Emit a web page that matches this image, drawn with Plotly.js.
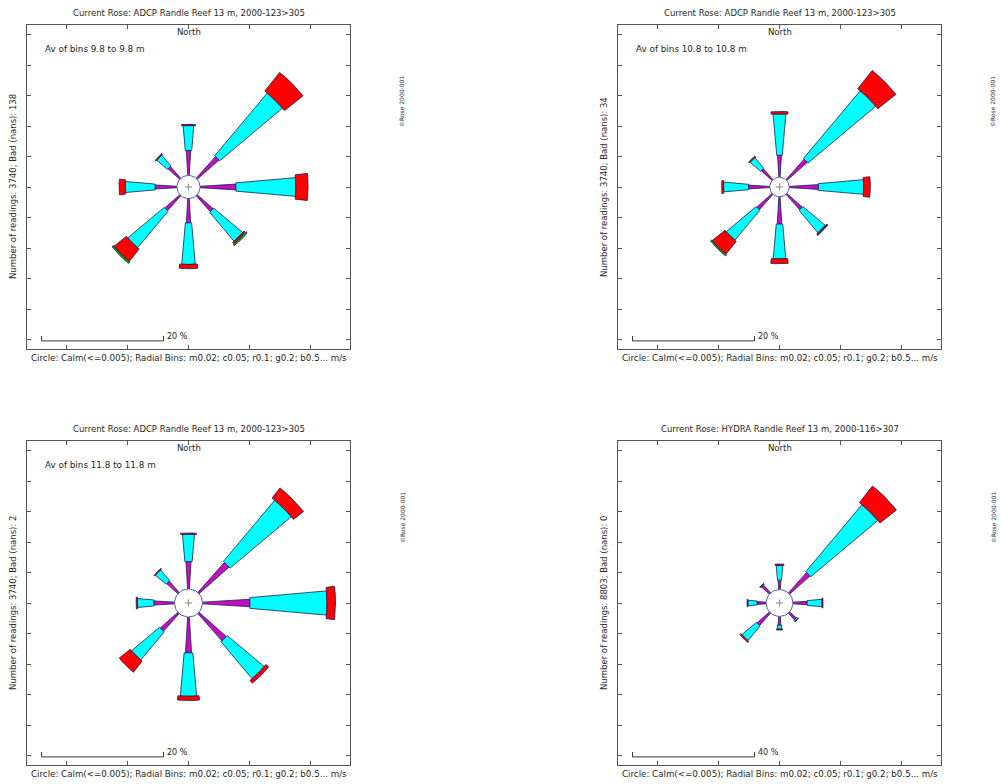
<!DOCTYPE html>
<html><head><meta charset="utf-8">
<script src="https://cdn.plot.ly/plotly-3.0.1.min.js"></script>
<style>html,body{margin:0;padding:0;background:#fff}#chart{width:1001px;height:784px}</style>
</head><body><div id="chart"></div>
<script>
// ---------- DATA ----------
const directions = ['N','NE','E','SE','S','SW','W','NW'];
const directionDeg = [0,45,90,135,180,225,270,315];
const speedBins = ['m','c','r','g','b'];

const panelTitles = [
  'Current Rose: ADCP Randle Reef 13 m, 2000-123>305',
  'Current Rose: ADCP Randle Reef 13 m, 2000-123>305',
  'Current Rose: ADCP Randle Reef 13 m, 2000-123>305',
  'Current Rose: HYDRA Randle Reef 13 m, 2000-116>307'
];
const avBinsText = ['Av of bins 9.8 to 9.8 m','Av of bins 10.8 to 10.8 m','Av of bins 11.8 to 11.8 m',''];
const yLabels = [
  'Number of readings: 3740; Bad (nans): 138',
  'Number of readings: 3740; Bad (nans): 34',
  'Number of readings: 3740; Bad (nans): 2',
  'Number of readings: 8803; Bad (nans): 0'
];
const xLabel = 'Circle: Calm(<=0.005); Radial Bins: m0.02; c0.05; r0.1; g0.2; b0.5... m/s';
const northLabel = 'North';
const stampText = '©Rose 2000-001';
const scaleBarPct = [20,20,20,40];
const calmRadiusPct = [1.9,1.6,2.3,4.4];

// percent of readings per direction (N, NE, E, SE, S, SW, W, NW) per speed bin
const p1_m = [4.1,4.8,5.9,3.5,4.0,3.3,3.6,2.6];
const p1_c = [4.1,13.4,9.8,6.2,6.8,7.8,4.9,2.3];
const p1_r = [0.2,3.9,2.0,0.3,0.7,2.6,1.0,0.2];
const p1_g = [0,0,0,0.3,0,0.3,0,0];
const p1_b = [0,0,0,0,0,0,0,0];

const p2_m = [3.6,4.5,4.8,3.4,4.5,3.4,3.5,2.4];
const p2_c = [6.8,14.5,7.4,4.8,5.7,6.4,4.1,2.3];
const p2_r = [0.4,3.8,1.1,0.2,0.8,2.7,0.3,0.2];
const p2_g = [0,0,0,0.1,0,0.25,0,0];
const p2_b = [0,0,0,0,0,0,0,0];

const p3_m = [4.5,6.6,7.8,6.0,5.9,3.9,3.4,2.5];
const p3_c = [4.5,13.1,12.6,7.9,7.1,6.0,2.7,2.3];
const p3_r = [0.2,2.1,1.4,0.6,0.7,2.3,0.2,0.15];
const p3_g = [0,0,0,0,0,0,0,0];
const p3_b = [0,0,0,0,0,0,0,0];

const p4_m = [3.1,9.0,4.7,2.9,2.9,5.5,3.0,3.4];
const p4_c = [4.9,28.7,4.9,0.5,1.3,6.2,3.0,0.3];
const p4_r = [0.4,6.9,0.3,0.2,0.3,0.5,0.3,0.2];
const p4_g = [0,0,0,0,0,0,0,0];
const p4_b = [0,0,0,0,0,0,0,0];

const panelBins = [
  [p1_m,p1_c,p1_r,p1_g,p1_b],
  [p2_m,p2_c,p2_r,p2_g,p2_b],
  [p3_m,p3_c,p3_r,p3_g,p3_b],
  [p4_m,p4_c,p4_r,p4_g,p4_b]
];

// ---------- STYLE ----------
const binColors = ['#c010c0','#00ffff','#ff0000','#00b000','#0000ff'];
const binHalfAngle = [3.5,5,6.5,7,7.5];
const W = 1001, H = 784;
const frames = [ // px boxes [left, top, right, bottom]
  [27,25,350,349],[618,25,941,349],[27,441,350,765],[618,441,941,765]
];
const FONT = 'DejaVu Sans, Verdana, sans-serif';
const TXT = '#262626';

function arcPts(theta, r0, r1, half) {
  const xs = [], ys = [], n = 4;
  for (let i = 0; i <= n; i++) {
    const a = (theta - half + 2*half*i/n) * Math.PI/180;
    xs.push(r0*Math.sin(a)); ys.push(r0*Math.cos(a));
  }
  for (let i = n; i >= 0; i--) {
    const a = (theta - half + 2*half*i/n) * Math.PI/180;
    xs.push(r1*Math.sin(a)); ys.push(r1*Math.cos(a));
  }
  xs.push(xs[0]); ys.push(ys[0]);
  return [xs, ys];
}

const traces = [];
const layout = {
  width: W, height: H, margin: {l:0,r:0,t:0,b:0},
  paper_bgcolor: '#fff', plot_bgcolor: '#fff', showlegend: false,
  font: {family: FONT, color: TXT},
  annotations: []
};

frames.forEach((f, p) => {
  const s = p === 0 ? '' : String(p+1);
  const xa = 'x' + s, ya = 'y' + s;
  const pxPer = 122 / scaleBarPct[p];
  const xHalf = (f[2]-f[0]) / 2 / pxPer;
  const yHalf = (f[3]-f[1]) / 2 / pxPer;
  const xt = [], yt = [];
  for (let v = -3; v <= 3; v++) { const t = v*scaleBarPct[p]/2; if (Math.abs(t) < xHalf) xt.push(t); }
  for (let v = -6; v <= 6; v++) { const t = v*scaleBarPct[p]/4; if (Math.abs(t) < yHalf) yt.push(t); }
  const common = {showgrid:false, zeroline:false, showticklabels:false, ticks:'inside', ticklen:4,
    tickcolor:'#555', tickwidth:1, showline:true, linecolor:'#555', linewidth:1, mirror:'ticks', fixedrange:true};
  layout['xaxis'+s] = Object.assign({}, common, {domain:[f[0]/W, f[2]/W], range:[-xHalf, xHalf], anchor: ya, tickvals: xt});
  layout['yaxis'+s] = Object.assign({}, common, {domain:[1-f[3]/H, 1-f[1]/H], range:[-yHalf, yHalf], anchor: xa, tickvals: yt});

  // petals
  const bins = panelBins[p];
  const cum = directionDeg.map(() => calmRadiusPct[p]);
  bins.forEach((vals, b) => {
    let X = [], Y = [];
    vals.forEach((v, d) => {
      if (v > 0) {
        const [xs, ys] = arcPts(directionDeg[d], cum[d], cum[d] + v, binHalfAngle[b]);
        X = X.concat(xs, [null]); Y = Y.concat(ys, [null]);
        cum[d] += v;
      }
    });
    if (X.length) traces.push({type:'scatter', mode:'lines', x:X, y:Y, xaxis:xa, yaxis:ya,
      fill:'toself', fillcolor: binColors[b], line:{color:'#1c1c50', width:0.8}, hoverinfo:'skip'});
  });
  // calm circle
  const cx = [], cy = [];
  for (let i = 0; i <= 48; i++) { const a = i/48*2*Math.PI; cx.push(calmRadiusPct[p]*Math.cos(a)); cy.push(calmRadiusPct[p]*Math.sin(a)); }
  traces.push({type:'scatter', mode:'lines', x:cx, y:cy, xaxis:xa, yaxis:ya, fill:'toself', fillcolor:'#fff',
    line:{color:'#5a5aa8', width:1}, hoverinfo:'skip'});
  traces.push({type:'scatter', mode:'markers', x:[0], y:[0], xaxis:xa, yaxis:ya,
    marker:{symbol:'cross-thin-open', size:5, color:'#888', line:{color:'#888', width:1}}, hoverinfo:'skip'});
  // scale bar
  const bx0 = -0.91*xHalf, bx1 = bx0 + scaleBarPct[p], by = -0.95*yHalf, bh = 0.03*yHalf;
  traces.push({type:'scatter', mode:'lines', x:[bx0,bx0,bx1,bx1], y:[by+bh,by,by,by+bh], xaxis:xa, yaxis:ya,
    line:{color:'#333', width:1}, hoverinfo:'skip'});
  layout.annotations.push({xref:xa, yref:ya, x:bx1+0.012*xHalf, y:by+0.025*yHalf, xanchor:'left', yanchor:'middle',
    text: scaleBarPct[p] + ' %', showarrow:false, font:{size:8, family:FONT, color:TXT}});

  const cxp = (f[0]+f[2])/2;
  layout.annotations.push({xref:'paper', yref:'paper', x:cxp/W, y:1-(f[1]-12)/H, xanchor:'center', yanchor:'middle',
    text: panelTitles[p], showarrow:false, font:{size:8.5, family:FONT, color:TXT}});
  layout.annotations.push({xref:'paper', yref:'paper', x:cxp/W, y:1-(f[1]+7)/H, xanchor:'center', yanchor:'middle',
    text: northLabel, showarrow:false, font:{size:8.5, family:FONT, color:TXT}});
  if (avBinsText[p]) layout.annotations.push({xref:'paper', yref:'paper', x:(f[0]+16)/W, y:1-(f[1]+24)/H, xanchor:'left', yanchor:'middle',
    text: avBinsText[p], showarrow:false, font:{size:8.8, family:FONT, color:TXT}});
  layout.annotations.push({xref:'paper', yref:'paper', x:cxp/W, y:1-(f[3]+9)/H, xanchor:'center', yanchor:'middle',
    text: xLabel, showarrow:false, font:{size:8.7, family:FONT, color:TXT}});
  layout.annotations.push({xref:'paper', yref:'paper', x:(f[0]-14)/W, y:1-((f[1]+f[3])/2)/H, xanchor:'center', yanchor:'middle',
    text: yLabels[p], textangle:-90, showarrow:false, font:{size:8.5, family:FONT, color:TXT}});
  layout.annotations.push({xref:'paper', yref:'paper', x:(f[2]+52)/W, y:1-(f[1]+77)/H, xanchor:'center', yanchor:'middle',
    text: stampText, textangle:-90, showarrow:false, font:{size:6, family:FONT, color:'#333'}});
});

Plotly.newPlot('chart', traces, layout, {staticPlot:true, displayModeBar:false});
</script></body></html>
